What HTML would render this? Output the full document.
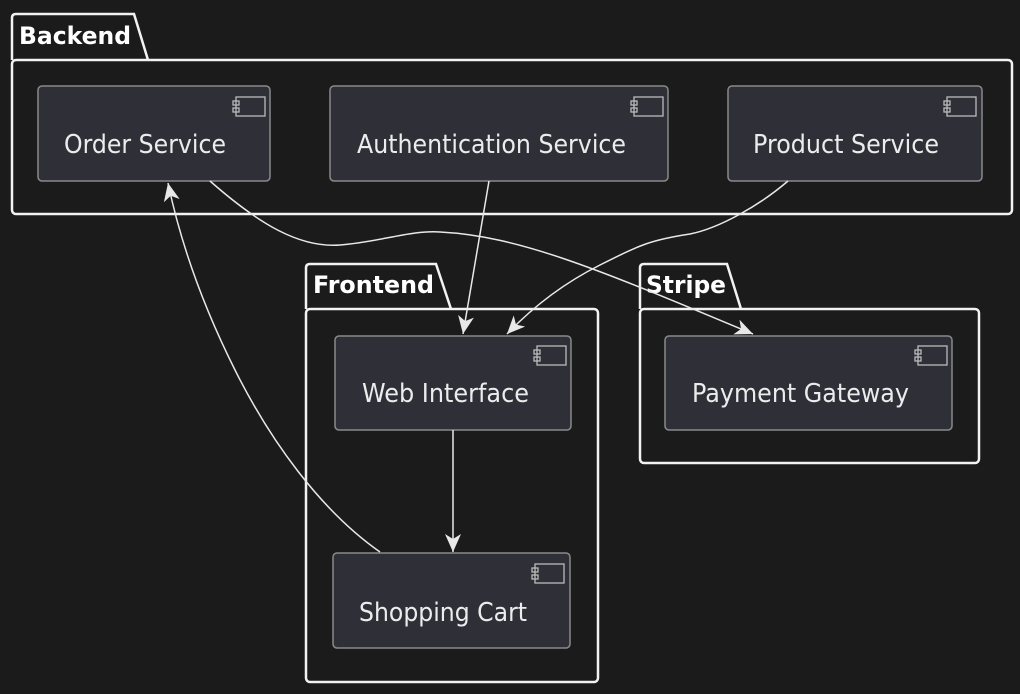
<!DOCTYPE html>
<html><head><meta charset="utf-8"><style>
html,body{margin:0;padding:0;background:#1b1b1b;}
svg{display:block}
text{font-family:"DejaVu Sans","Liberation Sans",sans-serif;}
</style></head><body>
<svg width="1020" height="694" viewBox="0 0 1020 694" xmlns="http://www.w3.org/2000/svg">
<defs>
<marker id="a" viewBox="0 0 20 16" refX="18" refY="8" markerWidth="20" markerHeight="16" markerUnits="userSpaceOnUse" orient="auto">
<path d="M0,0 L18,8 L0,16 L5,8 Z" fill="#e8e8e8"/>
</marker>
</defs>
<rect width="1020" height="694" fill="#1b1b1b"/>
<g fill="none" stroke="#f2f2f2" stroke-width="2.5">
<path d="M12,60 L12,18 Q12,14 16,14 L134,14 L148,60"/>
<rect x="12" y="60" width="1000" height="154" rx="4"/>
<path d="M306,309 L306,268 Q306,264 310,264 L436,264 L451,309"/>
<rect x="306" y="309" width="292" height="373" rx="4"/>
<path d="M640,309 L640,268 Q640,264 644,264 L727,264 L741,309"/>
<rect x="640" y="309" width="339" height="154" rx="4"/>
</g>
<g font-weight="bold" font-size="24" fill="#fff">
<text x="19" y="44" textLength="112" lengthAdjust="spacingAndGlyphs">Backend</text>
<text x="313" y="293" textLength="121" lengthAdjust="spacingAndGlyphs">Frontend</text>
<text x="646" y="293" textLength="80" lengthAdjust="spacingAndGlyphs">Stripe</text>
</g>
<g fill="#2f2f38" stroke="#8a8a8a" stroke-width="1.5">
<rect x="38" y="86" width="232" height="95" rx="4"/>
<rect x="330" y="86" width="338" height="95" rx="4"/>
<rect x="728" y="86" width="254" height="95" rx="4"/>
<rect x="335" y="336" width="236" height="94" rx="4"/>
<rect x="665" y="336" width="287" height="94" rx="4"/>
<rect x="333" y="553" width="237" height="95" rx="4"/>
</g>
<g fill="none" stroke="#bbb" stroke-width="1.3">
<g transform="translate(233,97)"><rect x="3" y="0" width="29" height="19"/><rect x="0" y="4" width="6" height="4"/><rect x="0" y="11" width="6" height="4"/></g>
<g transform="translate(631,97)"><rect x="3" y="0" width="29" height="19"/><rect x="0" y="4" width="6" height="4"/><rect x="0" y="11" width="6" height="4"/></g>
<g transform="translate(944,97)"><rect x="3" y="0" width="29" height="19"/><rect x="0" y="4" width="6" height="4"/><rect x="0" y="11" width="6" height="4"/></g>
<g transform="translate(534,346)"><rect x="3" y="0" width="29" height="19"/><rect x="0" y="4" width="6" height="4"/><rect x="0" y="11" width="6" height="4"/></g>
<g transform="translate(915,346)"><rect x="3" y="0" width="29" height="19"/><rect x="0" y="4" width="6" height="4"/><rect x="0" y="11" width="6" height="4"/></g>
<g transform="translate(532,564)"><rect x="3" y="0" width="29" height="19"/><rect x="0" y="4" width="6" height="4"/><rect x="0" y="11" width="6" height="4"/></g>
</g>
<g font-size="26" fill="#ececec">
<text x="64" y="153" textLength="162" lengthAdjust="spacingAndGlyphs">Order Service</text>
<text x="357" y="153" textLength="269" lengthAdjust="spacingAndGlyphs">Authentication Service</text>
<text x="753" y="153" textLength="186" lengthAdjust="spacingAndGlyphs">Product Service</text>
<text x="362" y="402" textLength="167" lengthAdjust="spacingAndGlyphs">Web Interface</text>
<text x="692" y="402" textLength="217" lengthAdjust="spacingAndGlyphs">Payment Gateway</text>
<text x="359" y="621" textLength="168" lengthAdjust="spacingAndGlyphs">Shopping Cart</text>
</g>
<g fill="none" stroke="#e8e8e8" stroke-width="1.5">
<path d="M210,181 C260,225 300,248 340,245 C380,242 410,230 440,232 C520,236 600,270 753,334" marker-end="url(#a)"/>
<path d="M489,181 L463,334" marker-end="url(#a)"/>
<path d="M788,181 C760,205 720,228 690,234 C650,240 640,245 600,265 C560,285 530,310 507,334" marker-end="url(#a)"/>
<path d="M453,430 L453,552" marker-end="url(#a)"/>
<path d="M380,552 C320,510 270,440 235,370 C200,300 180,240 168,183" marker-end="url(#a)"/>
</g>
</svg>
</body></html>
